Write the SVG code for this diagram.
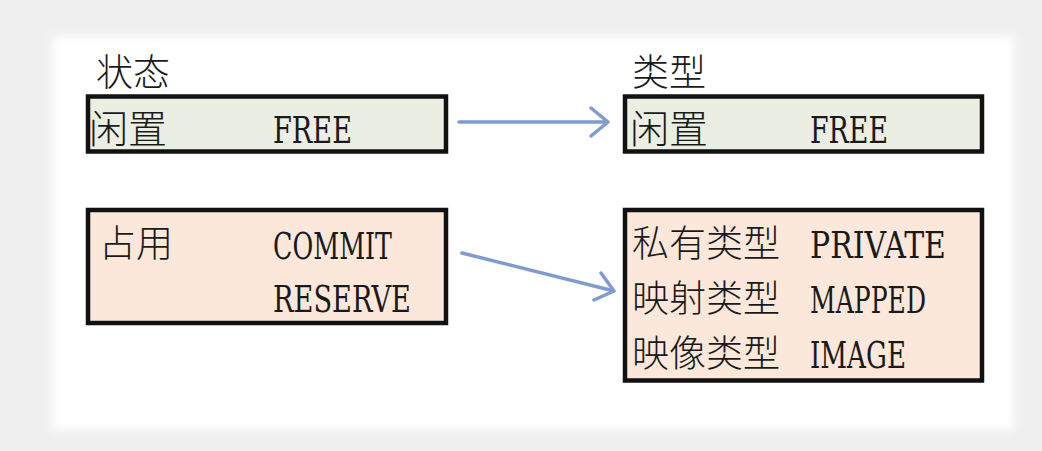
<svg xmlns="http://www.w3.org/2000/svg" width="1042" height="451" viewBox="0 0 1042 451">
<defs>
<filter id="soft" x="-5%" y="-5%" width="110%" height="110%"><feGaussianBlur stdDeviation="4"/></filter>
</defs>
<style>
.box{stroke:#111;stroke-width:4.5}
.free{fill:#ebeee2}
.used{fill:#fce8db}
.cjk{font-family:"Noto Sans CJK SC","Noto Sans CJK JP",sans-serif;font-size:37px;font-weight:300;fill:#1a1a1a}
.lat{font-family:"DejaVu Serif","Liberation Serif",serif;font-size:38px;fill:#1a1a1a}
.conn{stroke:#7f9bcf;stroke-width:3.5;fill:none;stroke-linecap:round;stroke-linejoin:round}
</style>
<rect x="0" y="0" width="1042" height="451" fill="#efefef"/>
<rect x="52" y="36" width="962" height="394" fill="#ffffff" filter="url(#soft)"/>
<g id="title-state"><text class="cjk" x="96" y="86">状态</text></g>
<g id="title-type"><text class="cjk" x="632" y="86">类型</text></g>
<g id="state-free">
<rect class="box free" x="88" y="96.5" width="358" height="55"/>
<text class="cjk" x="89" y="143" style="font-size:39px">闲置</text>
<text class="lat" x="273" y="143" textLength="79" lengthAdjust="spacingAndGlyphs">FREE</text>
</g>
<g id="state-used">
<rect class="box used" x="88" y="210" width="358" height="113"/>
<text class="cjk" x="99" y="257">占用</text>
<text class="lat" x="273" y="259" textLength="119" lengthAdjust="spacingAndGlyphs">COMMIT</text>
<text class="lat" x="273" y="312" textLength="138" lengthAdjust="spacingAndGlyphs">RESERVE</text>
</g>
<g id="type-free">
<rect class="box free" x="625" y="96.5" width="357" height="55"/>
<text class="cjk" x="630" y="143" style="font-size:39px">闲置</text>
<text class="lat" x="810" y="143" textLength="78" lengthAdjust="spacingAndGlyphs">FREE</text>
</g>
<g id="type-used">
<rect class="box used" x="625" y="210" width="357" height="170.5"/>
<text class="cjk" x="632" y="257">私有类型</text>
<text class="lat" x="810" y="258" textLength="136" lengthAdjust="spacingAndGlyphs">PRIVATE</text>
<text class="cjk" x="632" y="312">映射类型</text>
<text class="lat" x="810" y="313" textLength="116" lengthAdjust="spacingAndGlyphs">MAPPED</text>
<text class="cjk" x="632" y="367">映像类型</text>
<text class="lat" x="810" y="368" textLength="96" lengthAdjust="spacingAndGlyphs">IMAGE</text>
</g>
<g id="connectors">
<path class="conn" d="M459 122 H608 M591 108 L608 122 L591 136"/>
<path class="conn" d="M462 253 L614 291 M601 273 L614 291 L594 300"/>
</g>
</svg>
